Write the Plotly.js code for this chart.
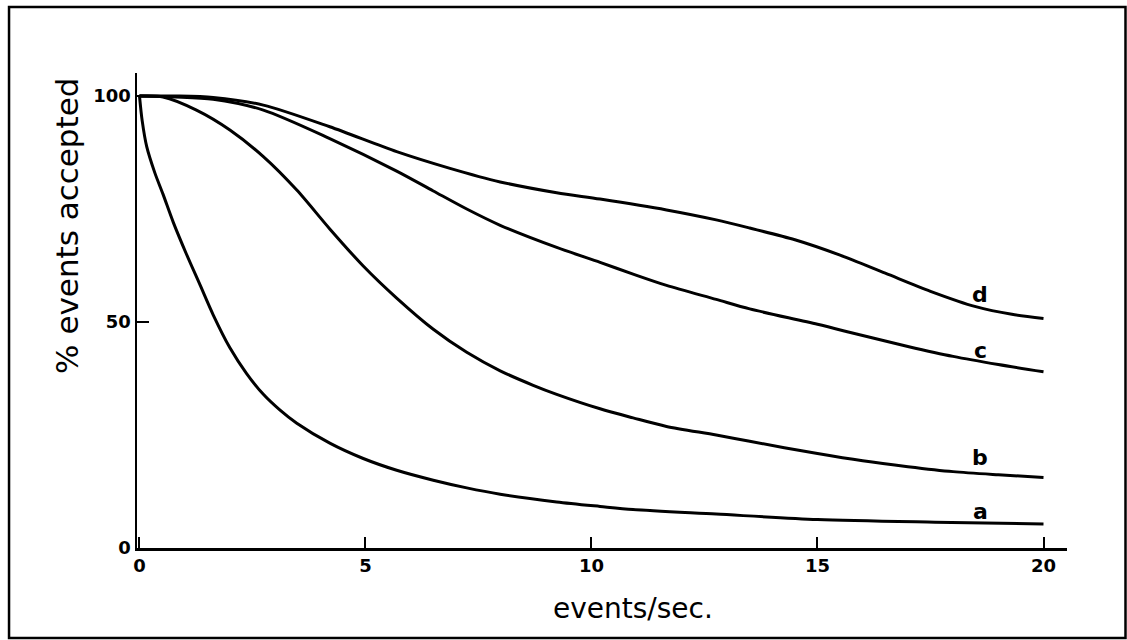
<!DOCTYPE html>
<html>
<head>
<meta charset="utf-8">
<script src="https://cdn.plot.ly/plotly-3.0.1.min.js"></script>
<style>html,body{margin:0;padding:0;background:#fff;}#chart{width:1127px;height:640px;}</style>
</head>
<body>
<div id="chart"></div>
<script>
// Curve a
const a_x = [0, 0.06, 0.16, 0.34, 0.52, 0.75, 1.04, 1.34, 1.63, 2.0, 2.37, 2.74, 3.11, 3.48, 4.21, 4.95, 5.69, 6.5, 7.24, 7.98, 9.23, 10.19, 10.92, 12.76, 15.0, 17.6, 20.0];
const a_y = [100, 94.5, 88.8, 83.0, 78.3, 72.0, 65.0, 58.2, 51.6, 44.3, 38.6, 34.0, 30.5, 27.6, 23.2, 19.8, 17.2, 15.0, 13.3, 11.9, 10.2, 9.2, 8.5, 7.5, 6.3, 5.7, 5.3];
// Curve b
const b_x = [0, 0.52, 1.26, 2.0, 2.74, 3.48, 4.21, 4.95, 5.69, 6.5, 7.24, 7.98, 8.71, 9.23, 10.19, 10.92, 11.66, 12.76, 13.5, 15, 16, 17, 18, 19, 20];
const b_y = [100, 99.8, 96.9, 92.5, 86.6, 79.2, 70.6, 62.4, 55.3, 48.4, 43.3, 39.2, 36.0, 34.0, 30.8, 28.8, 26.9, 25.0, 23.6, 20.9, 19.3, 18.0, 16.9, 16.2, 15.6];
// Curve c
const c_x = [0, 0.8, 1.63, 2.74, 4.21, 5.69, 6.5, 7.24, 7.98, 9.23, 10.19, 10.92, 11.66, 12.76, 13.5, 15, 16, 17, 18, 19, 20];
const c_y = [100, 99.8, 99.3, 96.9, 90.6, 83.4, 79.0, 75.0, 71.4, 66.5, 63.2, 60.6, 58.1, 55.0, 52.9, 49.5, 47.0, 44.6, 42.4, 40.6, 39.0];
// Curve d
const d_x = [0, 0.8, 1.63, 2.74, 4.21, 5.69, 6.87, 7.98, 9.23, 10.19, 11.66, 12.76, 13.5, 14.5, 15.5, 16.5, 17.5, 18.5, 19.3, 20];
const d_y = [100, 100, 99.7, 98.0, 93.2, 87.7, 84.0, 81.0, 78.6, 77.2, 74.8, 72.6, 70.8, 68.2, 64.8, 60.8, 56.8, 53.4, 51.7, 50.8];

const curve_names = ["a", "b", "c", "d"];
const x_ticks = [0, 5, 10, 15, 20];
const y_ticks = [0, 50, 100];

const xs = [a_x, b_x, c_x, d_x];
const ys = [a_y, b_y, c_y, d_y];

const traces = curve_names.map((n, i) => ({
  x: xs[i], y: ys[i], name: n, type: "scatter", mode: "lines",
  line: {color: "#000", width: 3, shape: "spline", smoothing: 0.8},
  hoverinfo: "skip"
}));

const labelPos = {a: [18.6, 8.0], b: [18.6, 20.1], c: [18.6, 43.8], d: [18.6, 56.0]};
const annotations = curve_names.map(n => ({
  x: labelPos[n][0], y: labelPos[n][1], xref: "x", yref: "y",
  xanchor: "center", yanchor: "middle",
  text: "<b>" + n + "</b>", showarrow: false,
  font: {family: "DejaVu Sans", size: 22, color: "#000"}
}));
annotations.push({
  xref: "paper", yref: "paper", x: -0.0753, y: 0.678, textangle: -90,
  xanchor: "center", yanchor: "middle",
  text: "% events accepted", showarrow: false,
  font: {family: "DejaVu Sans", size: 31, color: "#000"}
});
annotations.push({
  xref: "paper", yref: "paper", x: 0.533, y: -0.128,
  xanchor: "center", yanchor: "middle",
  text: "events/sec.", showarrow: false,
  font: {family: "DejaVu Sans", size: 28, color: "#000"}
});

const tickFont = {family: "DejaVu Sans", size: 18, color: "#000", weight: "bold"};

const layout = {
  width: 1127, height: 640,
  margin: {l: 137, r: 60, t: 73, b: 92},
  paper_bgcolor: "#fff", plot_bgcolor: "#fff",
  showlegend: false,
  xaxis: {
    range: [-0.055, 20.52], tickvals: x_ticks, ticktext: x_ticks.map(String),
    ticks: "inside", ticklen: 11, tickwidth: 2, tickcolor: "#000",
    showline: true, linewidth: 2.5, linecolor: "#000",
    showgrid: false, zeroline: false,
    tickfont: tickFont
  },
  yaxis: {
    range: [0, 105.1], tickvals: y_ticks, ticktext: y_ticks.map(String),
    ticks: "inside", ticklen: 12, tickwidth: 2, tickcolor: "#000",
    showline: true, linewidth: 2.5, linecolor: "#000",
    showgrid: false, zeroline: false,
    tickfont: tickFont
  },
  annotations: annotations,
  shapes: [{
    type: "rect", xref: "paper", yref: "paper",
    x0: -0.1376, x1: 1.0629, y0: -0.1895, y1: 1.139,
    line: {color: "#000", width: 2.5}, fillcolor: "rgba(0,0,0,0)", layer: "below"
  }]
};

Plotly.newPlot("chart", traces, layout, {displayModeBar: false, staticPlot: true});
</script>
</body>
</html>
